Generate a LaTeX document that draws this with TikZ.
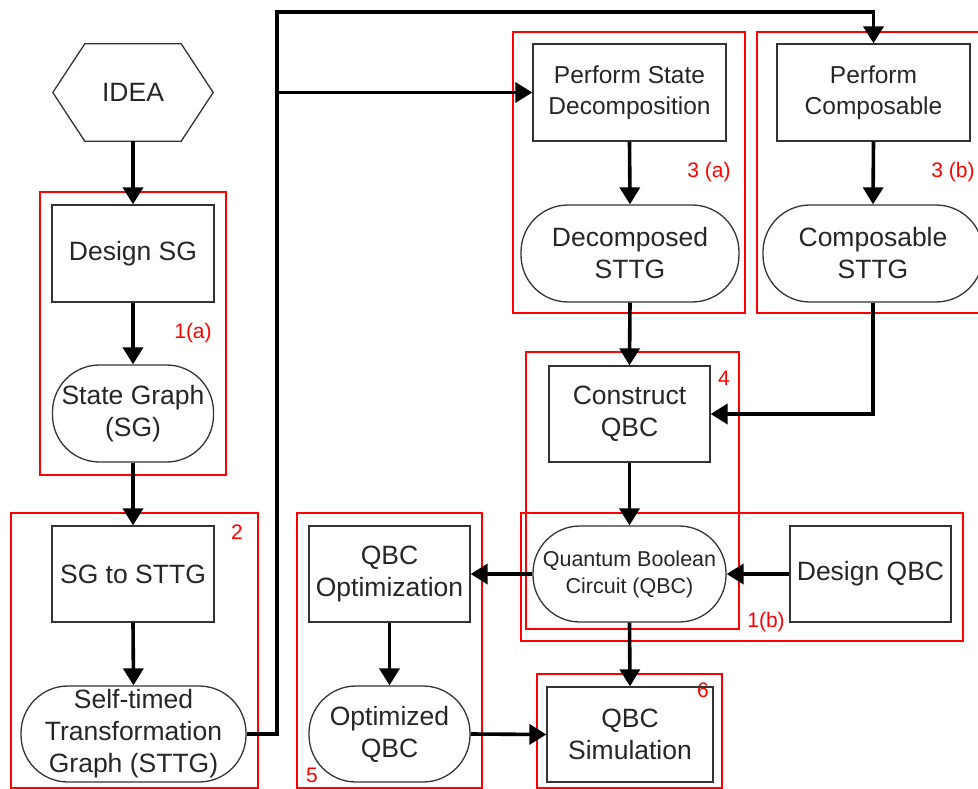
\documentclass[tikz,border=0pt]{standalone}
\usepackage{fontspec}
\setmainfont{Liberation Sans}
\usetikzlibrary{arrows.meta}
\definecolor{edgegray}{HTML}{333333}
\tikzset{
  base/.style={draw=edgegray, line width=1.3pt, inner sep=0pt, align=center, text=black!85,
    font=\fontsize{26.5}{32}\selectfont},
  procbox/.style={base, rectangle},
  termbox/.style={base, rectangle, rounded corners=47pt},
  grpbox/.style={draw=red, line width=1.6pt},
  grplabel/.style={text=red, font=\fontsize{21}{24}\selectfont, inner sep=0pt},
  arr/.style={line width=3.6pt, -{Triangle[width=20pt,length=17pt]}},
  plainline/.style={line width=3.6pt}
}
\begin{document}
\begin{tikzpicture}[x=1pt,y=-1pt]
\useasboundingbox (0,0) rectangle (978,789);
% group frames
\draw[grpbox] (40,192) rectangle (226,475);
\draw[grpbox] (11,513) rectangle (258,788);
\draw[grpbox] (513,32) rectangle (745,313);
\draw[grpbox] (757,32) rectangle (995,313);
\draw[grpbox] (526,352) rectangle (739,629);
\draw[grpbox] (521,513) rectangle (963,641);
\draw[grpbox] (297,513) rectangle (482,788);
\draw[grpbox] (537,674) rectangle (722,788);
% group labels
\node[grplabel] (la) at (193,333) {1(a)};
\node[grplabel] (lb) at (237,532) {2};
\node[grplabel] (lc) at (709,172) {3 (a)};
\node[grplabel] (ld) at (953,172) {3 (b)};
\node[grplabel] (le) at (724,378) {4};
\node[grplabel] (lf) at (766,622) {1(b)};
\node[grplabel] (lg) at (312,775) {5};
\node[grplabel] (lh) at (703,690) {6};
% IDEA hexagon
\node[inner sep=0pt, minimum width=160pt, minimum height=97pt, font=\fontsize{26.5}{32}\selectfont, text=black!85] (idea) at (133,92.5) {IDEA};
\draw[draw=edgegray, line width=1.3pt] (idea.west) -- ([xshift=32pt]idea.north west) -- ([xshift=-32pt]idea.north east) -- (idea.east) -- ([xshift=-32pt]idea.south east) -- ([xshift=32pt]idea.south west) -- cycle;
% nodes
\node[procbox, minimum width=162pt, minimum height=97pt] (dsg) at (133,253.5) {Design SG};
\node[termbox, minimum width=161pt, minimum height=97pt] (sg) at (133,413.5) {State Graph\\(SG)};
\node[procbox, minimum width=162pt, minimum height=96pt] (s2s) at (133,574) {SG to STTG};
\node[termbox, minimum width=225pt, minimum height=96pt] (sttg) at (133.5,734) {Self-timed\\Transformation\\Graph (STTG)};
\node[procbox, minimum width=193pt, minimum height=97pt, font=\fontsize{24.5}{31}\selectfont] (psd) at (629.5,92.5) {Perform State\\Decomposition};
\node[termbox, minimum width=218pt, minimum height=97pt] (dsttg) at (630,253.5) {Decomposed\\STTG};
\node[procbox, minimum width=193pt, minimum height=97pt, font=\fontsize{24.5}{31}\selectfont] (pc) at (873.5,92.5) {Perform\\Composable};
\node[termbox, minimum width=220pt, minimum height=97pt] (csttg) at (873,253.5) {Composable\\STTG};
\node[procbox, minimum width=161pt, minimum height=96pt] (cqbc) at (629.5,414) {Construct\\QBC};
\node[termbox, minimum width=193pt, minimum height=96pt, font=\fontsize{21.5}{27}\selectfont] (qbc) at (629.5,574) {Quantum Boolean\\Circuit (QBC)};
\node[procbox, minimum width=161pt, minimum height=96pt] (dqbc) at (870.5,574) {Design QBC};
\node[procbox, minimum width=161pt, minimum height=96pt] (qopt) at (389.5,574) {QBC\\Optimization};
\node[termbox, minimum width=161pt, minimum height=96pt] (oqbc) at (389.5,734) {Optimized\\QBC};
\node[procbox, minimum width=166pt, minimum height=95pt] (qsim) at (630,734.5) {QBC\\Simulation};
% connectors
\coordinate (top) at (277,12);
\coordinate (branch) at (277,92.5);
\draw[arr] (idea.south) -- (dsg.north);
\draw[arr] (dsg.south) -- (sg.north);
\draw[arr] (sg.south) -- (s2s.north);
\draw[arr] (s2s.south) -- (sttg.north);
\draw[arr, line join=miter] (sttg.east) -| (top) -| (pc.north);
\draw[arr] (branch) -- (psd.west);
\draw[arr] (psd.south) -- (dsttg.north);
\draw[arr] (pc.south) -- (csttg.north);
\draw[arr] (dsttg.south) -- (cqbc.north);
\draw[arr, line join=miter] (csttg.south) |- (cqbc.east);
\draw[arr] (cqbc.south) -- (qbc.north);
\draw[arr] (dqbc.west) -- (qbc.east);
\draw[arr] (qbc.west) -- (qopt.east);
\draw[arr] (qbc.south) -- (qsim.north);
\draw[arr] (qopt.south) -- (oqbc.north);
\draw[arr] (oqbc.east) -- (qsim.west);
\end{tikzpicture}
\end{document}
